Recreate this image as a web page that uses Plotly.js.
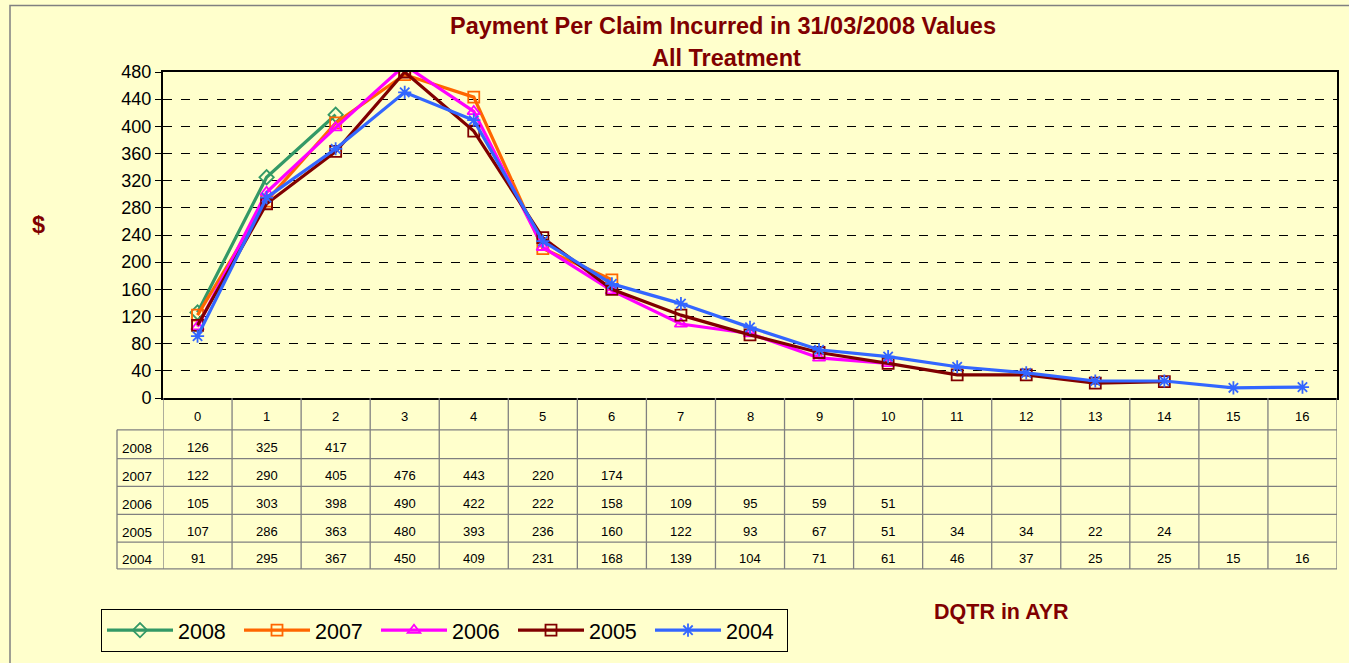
<!DOCTYPE html>
<html>
<head>
<meta charset="utf-8">
<script src="https://cdn.plot.ly/plotly-3.0.1.min.js"></script>
<style>
html,body{margin:0;padding:0;background:#FFFFCC;}
#chart{width:1349px;height:663px;}
</style>
</head>
<body>
<div id="chart"></div>
<script>
// ---- data ----
var categories = [0,1,2,3,4,5,6,7,8,9,10,11,12,13,14,15,16];
var seriesNames = ["2008","2007","2006","2005","2004"];
var v2008 = [126, 325, 417];
var v2007 = [122, 290, 405, 476, 443, 220, 174];
var v2006 = [105, 303, 398, 490, 422, 222, 158, 109, 95, 59, 51];
var v2005 = [107, 286, 363, 480, 393, 236, 160, 122, 93, 67, 51, 34, 34, 22, 24];
var v2004 = [91, 295, 367, 450, 409, 231, 168, 139, 104, 71, 61, 46, 37, 25, 25, 15, 16];
var seriesValues = [v2008, v2007, v2006, v2005, v2004];
var yTicks = [0,40,80,120,160,200,240,280,320,360,400,440,480];

// ---- styles ----
var colors = ["#339966", "#FF6600", "#FF00FF", "#800000", "#3366FF"];
var symbols = ["diamond-open", "square-open", "triangle-up-open", "square-open", "asterisk-open"];

// plot area pixels
var W = 1349, H = 663;
var L = 163, R = 1337, T = 72, B = 400;
function px(x){ return (x - L) / (R - L); }
function py(y){ return (B - y) / (B - T); }

var traces = seriesValues.map(function(vals, i){
  return {
    type: 'scatter', mode: 'lines+markers', name: seriesNames[i],
    x: categories.slice(0, vals.length), y: vals,
    line: {color: colors[i], width: 3.2},
    marker: {symbol: symbols[i], size: 11, color: colors[i], line: {color: colors[i], width: 1.8}}
  };
});

var shapes = [];
var annotations = [];
var gridCol = "#808080";
var font = 'Liberation Sans, Arial';
// table row boundaries (pixel y)
var rowLines = [432, 461, 489, 517, 545, 572];
var labelLeft = 117;
for (var k = 0; k <= categories.length; k++) {
  shapes.push({type:'line', xref:'x', yref:'paper', x0:k-0.5, x1:k-0.5, y0:py(B), y1:py(572),
    line:{color:gridCol, width:1.3}});
}
shapes.push({type:'line', xref:'paper', yref:'paper', x0:px(labelLeft), x1:px(labelLeft), y0:py(432), y1:py(572),
  line:{color:gridCol, width:1.3}});
rowLines.forEach(function(y){
  shapes.push({type:'line', xref:'paper', yref:'paper', x0:px(labelLeft), x1:1, y0:py(y), y1:py(y),
    line:{color:gridCol, width:1.3}});
});
// outer chart border
shapes.push({type:'rect', xref:'paper', yref:'paper', x0:px(10), x1:px(W+20), y0:py(5), y1:py(H+20),
  line:{color:"#808080", width:1.5}});

function ann(o){ o.showarrow = false; if(!o.xanchor) o.xanchor='center'; o.yanchor='middle'; annotations.push(o); }

// header row labels
categories.forEach(function(c){
  ann({xref:'x', yref:'paper', x:c, y:py(419), text:String(c), font:{family:font, size:13, color:'#000'}});
});
// body rows
for (var r = 0; r < seriesNames.length; r++) {
  var yc = (rowLines[r] + rowLines[r+1]) / 2 + 3;
  ann({xref:'paper', yref:'paper', x:px(120), y:py(yc + 1), xanchor:'left', text:seriesNames[r],
    font:{family:font, size:13.5, color:'#000'}});
  seriesValues[r].forEach(function(v, j){
    ann({xref:'x', yref:'paper', x:categories[j], y:py(yc), text:String(v), font:{family:font, size:13, color:'#000'}});
  });
}
// titles
var titleFont = {family:font, size:23.5, color:'#800000'};
ann({xref:'paper', yref:'paper', x:px(723), y:py(26), text:'<b>Payment Per Claim Incurred in 31/03/2008 Values</b>', font:titleFont});
ann({xref:'paper', yref:'paper', x:px(726), y:py(58), text:'<b>All Treatment</b>', font:titleFont});
ann({xref:'paper', yref:'paper', x:px(38), y:py(226), text:'<b>$</b>', font:titleFont});
ann({xref:'paper', yref:'paper', x:px(1001), y:py(615), text:'<b>DQTR in AYR</b>', font:{family:font, size:21.5, color:'#800000'}});

var layout = {
  width: W, height: H,
  paper_bgcolor: '#FFFFCC', plot_bgcolor: '#FFFFCC',
  margin: {l: L, r: W - R, t: T, b: H - B, pad: 0},
  showlegend: true,
  legend: {orientation:'h', x:px(101), y:py(612), xanchor:'left', yanchor:'top',
    bgcolor:'#FFFFCC', bordercolor:'#000', borderwidth:1,
    font:{family:font, size:21.5, color:'#000'},
    entrywidth: 56, itemwidth: 66},
  xaxis: {range:[-0.5, 16.5], showticklabels:false, showgrid:false, zeroline:false,
    showline:true, linecolor:'#000', linewidth:2, mirror:true, ticks:''},
  yaxis: {range:[0, 480], tickvals: yTicks, ticktext: yTicks.map(String),
    showgrid:true, gridcolor:'#000', gridwidth:1, griddash:'dash', zeroline:false,
    showline:true, linecolor:'#000', linewidth:2, mirror:true,
    ticks:'outside', ticklen:6, tickcolor:'#000', tickwidth:1,
    tickfont:{family:font, size:18, color:'#000'}},
  shapes: shapes, annotations: annotations
};

Plotly.newPlot('chart', traces, layout, {displayModeBar:false, staticPlot:true});
</script>
</body>
</html>
